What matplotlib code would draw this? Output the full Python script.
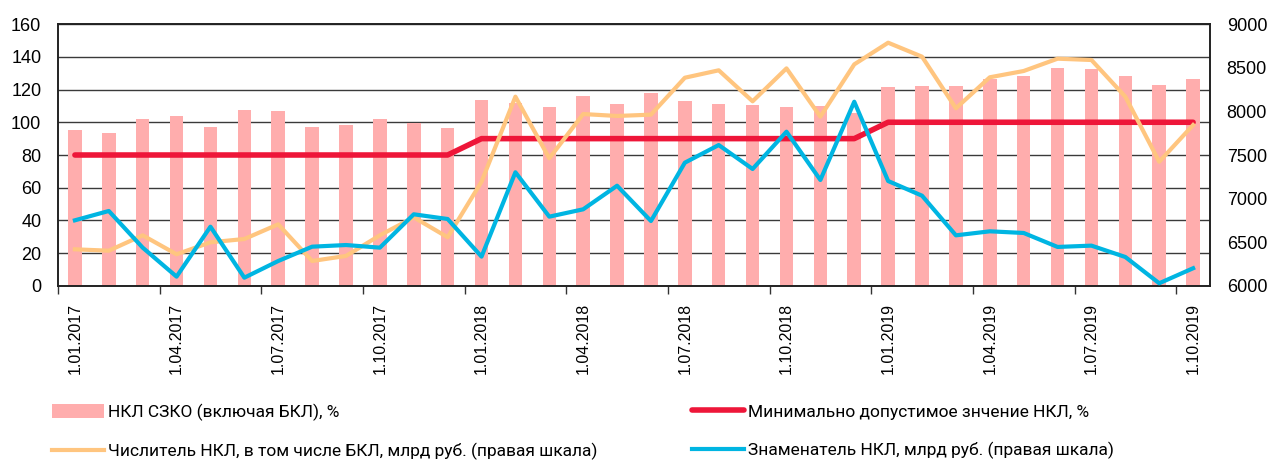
import matplotlib.pyplot as plt
import numpy as np

# Monthly data, January 2017 - October 2019
months = ['1.01.2017', '1.02.2017', '1.03.2017', '1.04.2017', '1.05.2017', '1.06.2017',
          '1.07.2017', '1.08.2017', '1.09.2017', '1.10.2017', '1.11.2017', '1.12.2017',
          '1.01.2018', '1.02.2018', '1.03.2018', '1.04.2018', '1.05.2018', '1.06.2018',
          '1.07.2018', '1.08.2018', '1.09.2018', '1.10.2018', '1.11.2018', '1.12.2018',
          '1.01.2019', '1.02.2019', '1.03.2019', '1.04.2019', '1.05.2019', '1.06.2019',
          '1.07.2019', '1.08.2019', '1.09.2019', '1.10.2019']

# НКЛ СЗКО, %
nkl_pct = [95, 93.4, 102, 103.8, 97.1, 107.3, 106.7, 97.1, 98.1, 102, 99.3, 96.7,
           113.6, 111.6, 109.5, 115.8, 111, 117.9, 113, 111.1, 110.5, 109.1, 109.7, 105.4,
           121.7, 122.3, 122.1, 126.4, 128, 133.3, 132.5, 128.2, 122.9, 126.2]

# minimum allowed value, %
nkl_min = [80] * 12 + [90] * 12 + [100] * 10

# numerator, bn rub (right axis)
numerator = [6420, 6404, 6580, 6363, 6500, 6538, 6706, 6286, 6344, 6580, 6786, 6558,
             7194, 8168, 7462, 7969, 7947, 7962, 8385, 8470, 8115, 8492, 7939, 8538,
             8786, 8626, 8035, 8390, 8462, 8603, 8588, 8168, 7423, 7843]

# denominator, bn rub (right axis)
denominator = [6752, 6859, 6439, 6107, 6679, 6095, 6286, 6450, 6469, 6439, 6821, 6767,
               6336, 7302, 6794, 6878, 7148, 6744, 7412, 7614, 7340, 7767, 7214, 8110,
               7202, 7034, 6580, 6626, 6607, 6447, 6462, 6332, 6031, 6203]

legend_font = ['Roboto', 'DejaVu Sans']
tick_font = ['Liberation Sans', 'DejaVu Sans']

x = np.arange(len(months))

fig = plt.figure(figsize=(12.74, 4.62), dpi=100)
ax = fig.add_axes([0.0455, 0.381, 0.9043, 0.567])
ax2 = ax.twinx()

bars = ax.bar(x, nkl_pct, width=0.4, color='#FFADAD', zorder=2,
              label='НКЛ СЗКО (включая БКЛ), %')
red, = ax.plot(x, nkl_min, color='#EE1639', lw=4, solid_capstyle='round', zorder=3,
               label='Минимально допустимое знчение НКЛ, %')
orange, = ax2.plot(x, numerator, color='#FFC57F', lw=3, zorder=3,
                   label='Числитель НКЛ, в том числе БКЛ, млрд руб. (правая шкала)')
blue, = ax2.plot(x, denominator, color='#00B5E2', lw=3, zorder=4,
                 label='Знаменатель НКЛ, млрд руб. (правая шкала)')

ax.set_xlim(-0.5, len(months) - 0.5)
ax.set_ylim(0, 160)
ax.set_yticks(np.arange(0, 161, 20))
ax2.set_ylim(6000, 9000)
ax2.set_yticks(np.arange(6000, 9001, 500))

# grid on the left scale, behind the bars
ax.set_axisbelow(True)
ax.yaxis.grid(True, color='#3a3a3a', lw=1)

# quarter labels centred on months, tick marks on month boundaries
ax.set_xticks(x[::3])
ax.set_xticklabels(months[::3], rotation=90, fontsize=11.5, family=tick_font)
ax.tick_params(axis='x', length=0, pad=12)
ax.set_xticks(np.arange(-0.5, len(months) - 0.5, 3), minor=True)
ax.tick_params(axis='x', which='minor', length=6, width=1, color='#333333')

ax.tick_params(axis='y', length=0, pad=12, labelsize=13)
ax2.tick_params(axis='y', length=0, pad=12, labelsize=13)
for lbl in ax.get_yticklabels() + ax2.get_yticklabels():
    lbl.set_family(tick_font)

for a in (ax, ax2):
    for s in a.spines.values():
        s.set_color('#222222')
        s.set_linewidth(1.2)

# two legend columns placed separately
leg_kw = dict(loc='upper left', frameon=False, prop={'family': legend_font, 'size': 12.5},
              handlelength=3.0, handleheight=0.9, handletextpad=0.25,
              labelspacing=1.3, borderaxespad=0, borderpad=0)
leg1 = fig.legend(handles=[bars, orange], bbox_to_anchor=(0.0405, 0.127), **leg_kw)
leg2 = fig.legend(handles=[red, blue], bbox_to_anchor=(0.543, 0.127), **leg_kw)

plt.savefig('out.png', dpi=100)
plt.close()
